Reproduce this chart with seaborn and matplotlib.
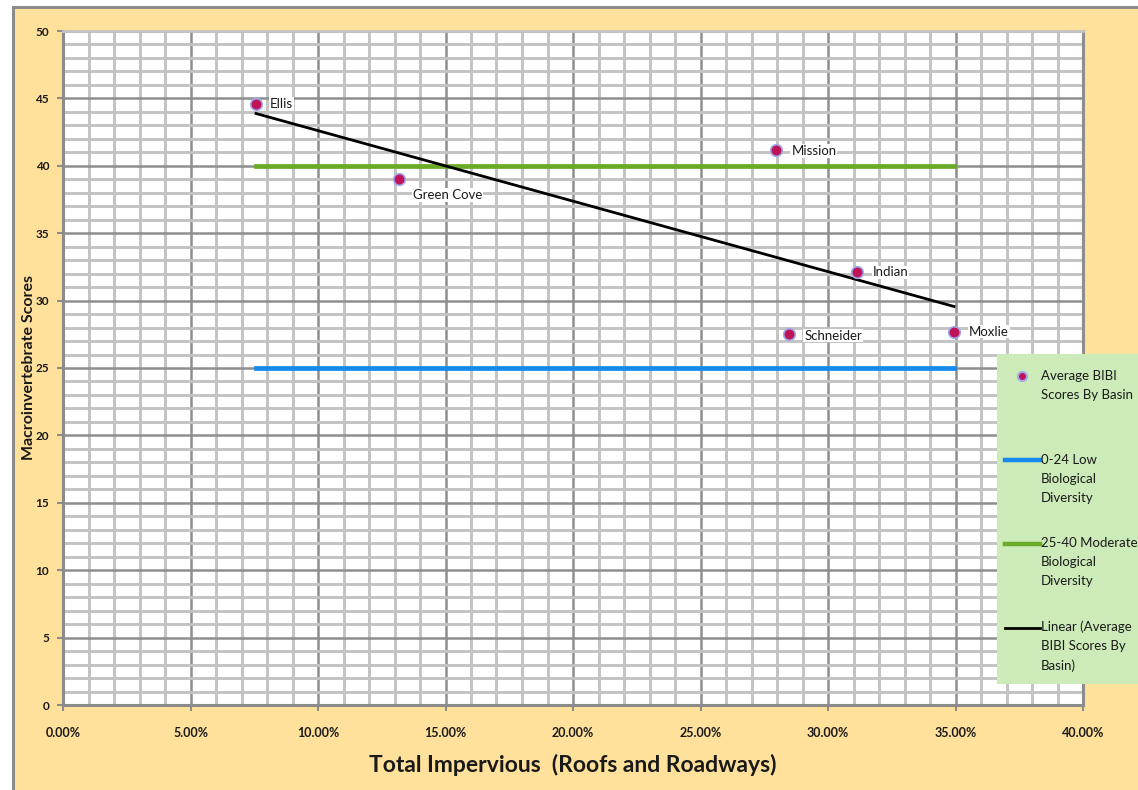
import numpy as np
import pandas as pd
import matplotlib
matplotlib.use("Agg")
import matplotlib.pyplot as plt
import seaborn as sns
from matplotlib.patches import Rectangle
from matplotlib.lines import Line2D
from matplotlib.ticker import MultipleLocator, PercentFormatter
from matplotlib.legend_handler import HandlerLine2D

# ---------------- data ----------------
basins = ["Ellis", "Green Cove", "Mission", "Indian", "Schneider", "Moxlie"]
impervious = [0.0757, 0.1318, 0.2796, 0.3114, 0.2847, 0.3494]
bibi_scores = [44.6, 39.0, 41.2, 32.1, 27.5, 27.7]
low_threshold = 25
moderate_threshold = 40
x_ticks = [0.00, 0.05, 0.10, 0.15, 0.20, 0.25, 0.30, 0.35, 0.40]
y_ticks = [0, 5, 10, 15, 20, 25, 30, 35, 40, 45, 50]
legend_labels = [
    "Average BIBI\nScores By Basin\n",
    "0-24 Low\nBiological\nDiversity",
    "25-40 Moderate\nBiological\nDiversity",
    "Linear (Average\nBIBI Scores By\nBasin)",
]
x_label = "Total Impervious  (Roofs and Roadways)"
y_label = "Macroinvertebrate Scores"

# label offsets (points) – style only
label_offsets = [(10, 0), (10, -11.5), (11, -1), (11, 0), (11, -1), (11, 0)]

df = pd.DataFrame({"basin": basins, "impervious": impervious, "score": bibi_scores})
x_span = [min(impervious), max(impervious)]
df_low = pd.DataFrame({"x": x_span, "y": [low_threshold] * 2})
df_mod = pd.DataFrame({"x": x_span, "y": [moderate_threshold] * 2})
slope, intercept = np.polyfit(df["impervious"], df["score"], 1)
df_fit = pd.DataFrame({"x": x_span, "y": [slope * v + intercept for v in x_span]})

# ---------------- colours ----------------
PEACH = "#FFE19B"
FRAME = "#8C8C8C"
MAJOR = "#8E8E8E"
MINOR = "#C3C3C3"
BLUE = "#1589EE"
GREEN = "#69AA27"
PINK = "#BE1459"
LAVENDER = "#A3A8EC"
LEG_BG = "#CCEBB8"

plt.rcParams["font.family"] = ["Lato", "DejaVu Sans"]

W, H = 1138, 790
fig = plt.figure(figsize=(W / 100, H / 100), dpi=100, facecolor="white")

# outer chart area frame
fig.add_artist(Rectangle((13 / W, -0.05), 1.2, 1 - 7 / H + 0.05,
                         transform=fig.transFigure, facecolor=PEACH,
                         edgecolor=FRAME, linewidth=2.2, zorder=-10))

L, R, T, B = 63, 1083, 31, 705
ax = fig.add_axes([L / W, 1 - B / H, (R - L) / W, (B - T) / H])
ax.set_facecolor("white")

# lines
sns.lineplot(data=df_low, x="x", y="y", ax=ax, color=BLUE, linewidth=3.4,
             legend=False, zorder=3)
sns.lineplot(data=df_mod, x="x", y="y", ax=ax, color=GREEN, linewidth=3.4,
             legend=False, zorder=3)
sns.lineplot(data=df_fit, x="x", y="y", ax=ax, color="black", linewidth=2.0,
             legend=False, zorder=4)
sns.scatterplot(data=df, x="impervious", y="score", ax=ax, color=PINK,
                edgecolor=LAVENDER, linewidth=1.2, s=70, legend=False, zorder=5)

for (name, xv, yv), off in zip(zip(basins, impervious, bibi_scores), label_offsets):
    ax.annotate(name, (xv, yv), xytext=off, textcoords="offset points",
                ha="left", va="center", fontsize=9.5, color="#1a1a1a", zorder=6,
                bbox=dict(facecolor="white", edgecolor="none", pad=0.6))

# axes
ax.set_xlim(x_ticks[0], x_ticks[-1])
ax.set_ylim(y_ticks[0], y_ticks[-1])
ax.set_xticks(x_ticks)
ax.set_yticks(y_ticks)
ax.xaxis.set_major_formatter(PercentFormatter(xmax=1, decimals=2))
ax.xaxis.set_minor_locator(MultipleLocator(0.01))
ax.yaxis.set_minor_locator(MultipleLocator(1))
ax.set_axisbelow(True)
ax.grid(which="minor", color=MINOR, linewidth=2.1, zorder=0)
ax.grid(which="major", color=MAJOR, linewidth=1.8, zorder=1)
ax.tick_params(which="minor", length=0)
ax.tick_params(which="major", direction="out", length=4, width=1.5, color=FRAME,
               labelcolor="#1a1a1a")
ax.tick_params(axis="x", pad=12, labelsize=9)
ax.tick_params(axis="y", pad=6, labelsize=8.5)
for lab in ax.get_xticklabels() + ax.get_yticklabels():
    lab.set_fontweight("bold")

for side in ["left", "bottom"]:
    ax.spines[side].set_color(FRAME)
    ax.spines[side].set_linewidth(2.2)
ax.spines["top"].set_color(MINOR)
ax.spines["top"].set_linewidth(2.0)
ax.spines["right"].set_color(MAJOR)
ax.spines["right"].set_linewidth(2.2)

ax.set_xlabel(x_label, fontsize=16.5, fontweight="bold", color="#1a1a1a", va="center")
ax.set_ylabel(y_label, fontsize=11.5, fontweight="bold", color="#1a1a1a", va="center")
ax.xaxis.set_label_coords(0.5, -(765 - B) / (B - T))
ax.yaxis.set_label_coords(-(L - 29) / (R - L), (B - 367) / (B - T))


# legend with handles aligned to first text line
class TopHandler(HandlerLine2D):
    def __init__(self, shift, **kw):
        super().__init__(**kw)
        self.shift = shift

    def create_artists(self, legend, orig_handle, xdescent, ydescent, width,
                       height, fontsize, trans):
        arts = super().create_artists(legend, orig_handle, xdescent, ydescent,
                                      width, height, fontsize, trans)
        for a in arts:
            if isinstance(a, Line2D):
                a.set_ydata(np.asarray(a.get_ydata(), dtype=float) + self.shift)
        return arts


# legend background panel (extends past the right edge like the original)
fig.add_artist(Rectangle((997 / W, 1 - 684 / H), 0.2, (684 - 354) / H,
                         transform=fig.transFigure, facecolor=LEG_BG,
                         edgecolor="none", zorder=4))

h_pts = Line2D([], [], linestyle="none", marker="o", markersize=6.5,
               markerfacecolor=PINK, markeredgecolor=LAVENDER, markeredgewidth=1.5)
h_low = Line2D([], [], color=BLUE, linewidth=3.2)
h_mod = Line2D([], [], color=GREEN, linewidth=3.2)
h_fit = Line2D([], [], color="black", linewidth=2.0)

line_pt = 13.7
leg = fig.legend([h_pts, h_low, h_mod, h_fit], legend_labels,
                 loc="upper left", bbox_to_anchor=(1005 / W, 1 - 370 / H),
                 bbox_transform=fig.transFigure, borderaxespad=0,
                 frameon=False, fontsize=9.5, handlelength=2.65,
                 handletextpad=0.05, borderpad=0, labelspacing=2.55,
                 handler_map={h_pts: TopHandler(line_pt),
                              h_low: TopHandler(line_pt),
                              h_mod: TopHandler(line_pt),
                              h_fit: TopHandler(line_pt)})
leg.set_zorder(6)
for t in leg.get_texts():
    t.set_linespacing(1.7)
    t.set_color("#1a1a1a")

fig.savefig("out.png", dpi=100, facecolor="white")
